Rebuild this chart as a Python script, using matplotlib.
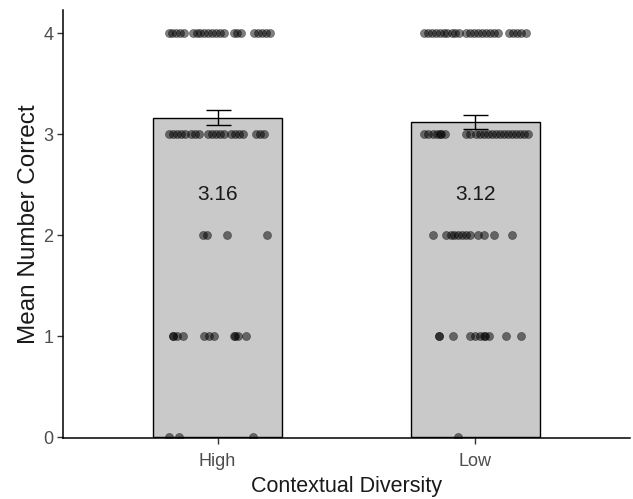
import matplotlib.pyplot as plt
import numpy as np

plt.rcParams['font.family'] = ['Liberation Sans', 'DejaVu Sans']

groups = ['High', 'Low']
means = [3.16, 3.12]
ses = [0.075, 0.07]
mean_labels = ['3.16', '3.12']

# jittered dot positions (offset from group centre) and scores
high_x = [-0.188, -0.177, -0.162, -0.146, -0.131, -0.096, -0.081, -0.069, -0.054, -0.038,
          -0.023, -0.008, 0.008, 0.023, 0.062, 0.077, 0.092, 0.142, 0.158, 0.173, 0.188, 0.204,
          -0.188, -0.173, -0.158, -0.142, -0.127, -0.104, -0.088, -0.073, -0.038, -0.023,
          -0.008, 0.008, 0.023, 0.054, 0.069, 0.085, 0.100, 0.150, 0.165, 0.181,
          -0.058, -0.042, 0.035, 0.192,
          -0.173, -0.172, -0.158, -0.135, -0.054, -0.035, -0.012, 0.065, 0.066, 0.081, 0.112,
          -0.188, -0.150, 0.138]
high_y = [4] * 22 + [3] * 20 + [2] * 4 + [1] * 11 + [0] * 3

low_x = [-0.200, -0.185, -0.169, -0.154, -0.138, -0.123, -0.108, -0.092, -0.077, -0.062,
         -0.035, -0.019, -0.004, 0.012, 0.027, 0.042, 0.058, 0.073, 0.088,
         0.131, 0.146, 0.162, 0.177, 0.196,
         -0.200, -0.185, -0.165, -0.150, -0.135, -0.134, -0.119,
         -0.035, -0.019, 0.004, 0.019, 0.035, 0.050, 0.065, 0.081, 0.096, 0.112,
         0.127, 0.142, 0.158, 0.173, 0.188, 0.204,
         -0.165, -0.112, -0.096, -0.081, -0.065, -0.050, -0.035, -0.019, 0.012, 0.035,
         0.073, 0.142,
         -0.142, -0.141, -0.085, -0.019, 0.000, 0.019, 0.035, 0.036, 0.054, 0.119, 0.177,
         -0.065]
low_y = [4] * 24 + [3] * 23 + [2] * 12 + [1] * 11 + [0] * 1

fig = plt.figure(figsize=(6.33, 4.99), dpi=100)
ax = fig.add_axes([0.0995, 0.122, 0.8955, 0.858])

xpos = np.arange(len(groups))
ax.bar(xpos, means, width=0.5, color='#c9c9c9', edgecolor='black', linewidth=1.0, zorder=1)
ax.errorbar(xpos, means, yerr=ses, fmt='none', ecolor='black', elinewidth=1.0,
            capsize=9, capthick=1.0, zorder=2)

ax.scatter(xpos[0] + np.array(high_x), high_y, s=34, color='black', alpha=0.5,
           edgecolors='black', linewidths=0.4, zorder=3)
ax.scatter(xpos[1] + np.array(low_x), low_y, s=34, color='black', alpha=0.5,
           edgecolors='black', linewidths=0.4, zorder=3)

for i, lab in enumerate(mean_labels):
    ax.text(xpos[i], 2.4, lab, ha='center', va='center', fontsize=15, color='#1a1a1a', zorder=4)

ax.set_xlim(-0.6, 1.6)
ax.set_ylim(-0.01, 4.228)
ax.set_xticks(xpos)
ax.set_xticklabels(groups)
ax.set_yticks([0, 1, 2, 3, 4])
ax.tick_params(axis='both', colors='#333333', labelcolor='#4d4d4d', labelsize=13,
               length=4, width=1)
ax.tick_params(axis='x', pad=7)
ax.tick_params(axis='y', pad=3)
ax.spines['top'].set_visible(False)
ax.spines['right'].set_visible(False)
ax.spines['left'].set_linewidth(1.1)
ax.spines['bottom'].set_linewidth(1.1)
ax.set_xlabel('Contextual Diversity', fontsize=15.5, color='#1a1a1a', labelpad=4)
ax.set_ylabel('Mean Number Correct', fontsize=17.5, color='#1a1a1a', labelpad=2)

fig.savefig('out.png', dpi=100)
